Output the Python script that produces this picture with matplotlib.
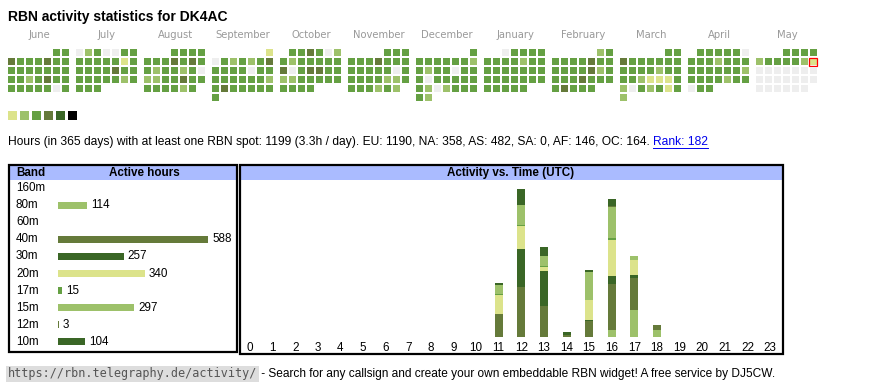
import calendar
import matplotlib.pyplot as plt
from matplotlib.patches import Rectangle
from matplotlib.transforms import blended_transform_factory

W, H = 870, 390

# ---- calendar: one digit per day, 0 = no spot ... 5 = most active ----
month_names = ['June', 'July', 'August', 'September', 'October', 'November',
               'December', 'January', 'February', 'March', 'April', 'May']
month_keys = [(2024, 6), (2024, 7), (2024, 8), (2024, 9), (2024, 10), (2024, 11),
              (2024, 12), (2025, 1), (2025, 2), (2025, 3), (2025, 4), (2025, 5)]
day_levels = [
    "33" "4333433" "3333333" "3323433" "3333303",
    "0230033" "3333313" "3333433" "3333323" "333",
    "3333" "3334343" "3233230" "2233433" "333323",
    "1" "0323234" "3333033" "3333332" "3433333" "3",
    "334302" "3233333" "4034433" "2233333" "3333",
    "333" "3334333" "3333303" "3333223" "333232",
    "3" "3333332" "3233033" "3033333" "3202333" "32",
    "03333" "3333233" "3333333" "3333333" "33333",
    "23" "3333433" "3333423" "3334333" "34333",
    "33" "4333333" "3333233" "3321113" "2032313" "2",
    "333330" "3332333" "3333332" "3333233" "033",
    "3333" "2333321" "0000000" "0000000" "000000",
]
today = (2025, 5, 11)

# ---- band table ----
bands = ['160m', '80m', '60m', '40m', '30m', '20m', '17m', '15m', '12m', '10m']
band_hours = [0, 114, 0, 588, 257, 340, 15, 297, 3, 104]

# ---- activity per UTC hour and band ----
hours = list(range(24))
hour_by_band = {
    '160m': [0, 0, 0, 0, 0, 0, 0, 0, 0, 0, 0, 0, 0, 0, 0, 0, 0, 0, 0, 0, 0, 0, 0, 0],
    '80m':  [0, 0, 0, 0, 0, 0, 0, 0, 0, 0, 0, 0, 0, 0, 0, 0, 19, 76, 19, 0, 0, 0, 0, 0],
    '60m':  [0, 0, 0, 0, 0, 0, 0, 0, 0, 0, 0, 0, 0, 0, 0, 0, 0, 0, 0, 0, 0, 0, 0, 0],
    '40m':  [0, 0, 0, 0, 0, 0, 0, 0, 0, 0, 0, 65, 143, 88, 6, 45, 134, 93, 14, 0, 0, 0, 0, 0],
    '30m':  [0, 0, 0, 0, 0, 0, 0, 0, 0, 0, 0, 0, 112, 101, 8, 4, 23, 9, 0, 0, 0, 0, 0, 0],
    '20m':  [0, 0, 0, 0, 0, 0, 0, 0, 0, 0, 0, 57, 66, 14, 0, 56, 104, 43, 0, 0, 0, 0, 0, 0],
    '17m':  [0, 0, 0, 0, 0, 0, 0, 0, 0, 0, 0, 3, 4, 2, 0, 0, 6, 0, 0, 0, 0, 0, 0, 0],
    '15m':  [0, 0, 0, 0, 0, 0, 0, 0, 0, 0, 0, 26, 57, 28, 0, 83, 89, 14, 0, 0, 0, 0, 0, 0],
    '12m':  [0, 0, 0, 0, 0, 0, 0, 0, 0, 0, 0, 0, 0, 0, 0, 0, 3, 0, 0, 0, 0, 0, 0, 0],
    '10m':  [0, 0, 0, 0, 0, 0, 0, 0, 0, 0, 0, 6, 47, 27, 0, 4, 20, 0, 0, 0, 0, 0, 0, 0],
}

stats_text = ("Hours (in 365 days) with at least one RBN spot: 1199 (3.3h / day). "
              "EU: 1190, NA: 358, AS: 482, SA: 0, AF: 146, OC: 164. ")
rank_text = "Rank: 182"
url_text = "https://rbn.telegraphy.de/activity/"
footer_text = (" - Search for any callsign and create your own embeddable RBN widget! "
               "A free service by DJ5CW.")

# colours
level_colors = ['#eeeeee', '#dce38b', '#9dc16a', '#65a043', '#657a3a', '#3a6626', '#000000']
band_colors = {'160m': '#65a043', '80m': '#9dc16a', '60m': '#dce38b', '40m': '#657a3a',
               '30m': '#3a6626', '20m': '#dce38b', '17m': '#65a043', '15m': '#9dc16a',
               '12m': '#657a3a', '10m': '#3a6626'}
header_blue = '#aabbff'
sans = 'Liberation Sans'

fig = plt.figure(figsize=(W / 100, H / 100), dpi=100)
page = fig.add_axes([0, 0, 1, 1])
page.set_xlim(0, W)
page.set_ylim(H, 0)
page.axis('off')


def px_axes(x0, y0, x1, y1):
    a = fig.add_axes([x0 / W, 1 - y1 / H, (x1 - x0) / W, (y1 - y0) / H])
    a.patch.set_alpha(0)
    for s in a.spines.values():
        s.set_visible(False)
    return a


page.text(8, 17, 'RBN activity statistics for DK4AC', fontsize=10,
          fontweight='bold', va='center', family=sans)

# calendar heatmap
for m, ((yr, mo), name, levels) in enumerate(zip(month_keys, month_names, day_levels)):
    first = calendar.weekday(yr, mo, 1)
    bx = 8 + 68 * m
    page.text(bx + 31, 35, name, ha='center', va='center', color='#999999',
              fontsize=7.2, family='DejaVu Sans')
    for d, lv in enumerate(levels):
        col = (first + d) % 7
        row = (first + d) // 7
        x, y = bx + 9 * col, 49 + 9 * row
        page.add_patch(Rectangle((x, y), 7, 7, facecolor=level_colors[int(lv)],
                                 edgecolor='none'))
        if (yr, mo, d + 1) == today:
            page.add_patch(Rectangle((x - 0.5, y - 0.5), 8, 8, facecolor='none',
                                     edgecolor='red', lw=0.9))

# legend of levels
for i, c in enumerate(level_colors[1:]):
    page.add_patch(Rectangle((8 + 12 * i, 111), 9, 9, facecolor=c, edgecolor='none'))

# statistics line with link
renderer = fig.canvas.get_renderer()
st = page.text(8, 142, stats_text, fontsize=8.65, va='center', family=sans)
bb = page.transData.inverted().transform(st.get_window_extent(renderer))
rx = bb[1][0]
rk = page.text(rx, 142, rank_text, fontsize=8.65, va='center', family=sans, color='#0000ee')
rb = page.transData.inverted().transform(rk.get_window_extent(renderer))
page.plot([rb[0][0], rb[1][0]], [148, 148], color='#0000ee', lw=0.7)

# table frames and headers
page.add_patch(Rectangle((10, 166), 226, 14, facecolor=header_blue, edgecolor='none'))
page.add_patch(Rectangle((241, 166), 541, 14, facecolor=header_blue, edgecolor='none'))
page.add_patch(Rectangle((9, 165), 228, 187, facecolor='none', edgecolor='black', lw=1.6))
page.add_patch(Rectangle((240, 165), 543, 189, facecolor='none', edgecolor='black', lw=1.6))
page.text(16, 173, 'Band', fontsize=8.4, fontweight='bold', va='center', family=sans)
page.text(144, 173, 'Active hours', fontsize=8.4, fontweight='bold', va='center',
          ha='center', family=sans)
page.text(511, 173, 'Activity vs. Time (UTC)', fontsize=8.4, fontweight='bold',
          va='center', ha='center', family=sans)

# band bars
bax = px_axes(58, 179.5, 238, 350.5)
bax.set_xlim(0, 180 / (150 / 588))
bax.set_ylim(len(bands) - 0.5, -0.5)
bax.set_xticks([])
bax.set_yticks([])
bax.barh(range(len(bands)), band_hours, height=7 / 17,
         color=[band_colors[b] for b in bands])
lab_tr = blended_transform_factory(page.transData, bax.transData)
for i, (b, v) in enumerate(zip(bands, band_hours)):
    bax.text(16, i, b, transform=lab_tr, fontsize=8.4, va='center', family=sans)
    if v > 0:
        bax.annotate(str(v), xy=(v, i), xytext=(3, 0), textcoords='offset points',
                     va='center', fontsize=8.4, family=sans, annotation_clip=False)

# activity vs time
pitch = 520 / 23
hax = px_axes(250 - pitch / 2, 180, 770 + pitch / 2, 336.7)
hax.set_xlim(-0.5, 23.5)
hax.set_ylim(0, 454)
hax.set_yticks([])
hax.set_xticks(hours)
hax.set_xticklabels([str(h) for h in hours])
hax.tick_params(axis='x', length=0, pad=3.5, labelsize=8.4)
for t in hax.get_xticklabels():
    t.set_family(sans)
bottom = [0] * 24
for b in bands:
    vals = hour_by_band[b]
    hax.bar(hours, vals, width=8 / pitch, bottom=bottom, color=band_colors[b])
    bottom = [p + q for p, q in zip(bottom, vals)]

# footer
ut = page.text(8, 374, url_text, fontsize=8.5, va='center', color='#555555',
               family='DejaVu Sans Mono',
               bbox=dict(facecolor='#dddddd', edgecolor='none', pad=1.2))
ub = page.transData.inverted().transform(ut.get_window_extent(renderer))
page.text(ub[1][0] + 1, 374, footer_text, fontsize=8.6, va='center', family=sans)

fig.savefig('out.png', dpi=100)
